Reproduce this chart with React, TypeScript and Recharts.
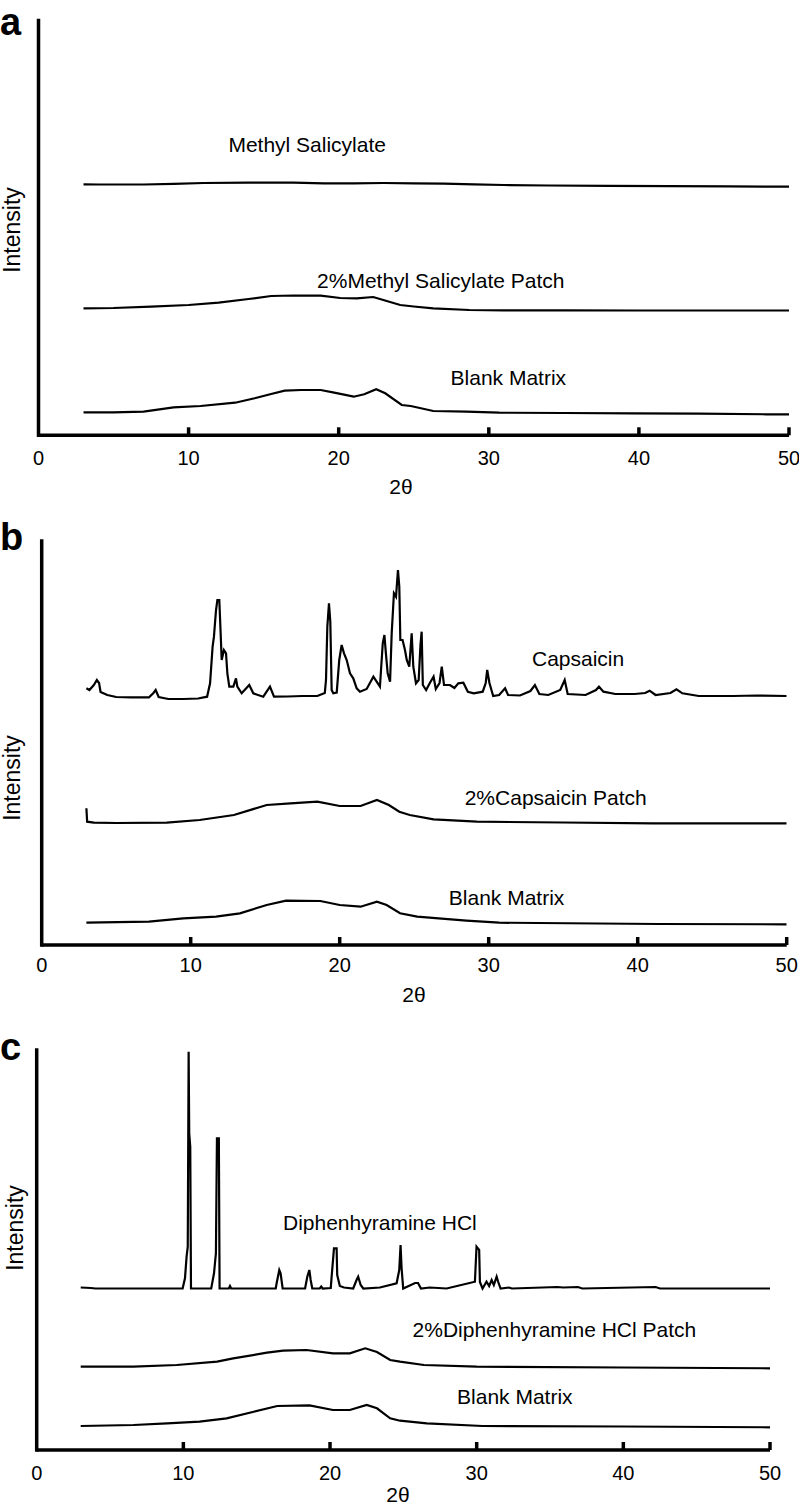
import { LineChart, Line, XAxis, YAxis, ReferenceDot } from 'recharts';

type Pt = [number, number];

const FONT = '"Liberation Sans", Arial, Helvetica, sans-serif';
const X_TICKS = [0, 10, 20, 30, 40, 50];

// (a) methyl salicylate — [2θ, intensity incl. stacking offset]
const methylSalicylate: Pt[] = [
  [3, 251], [4, 250.8], [5.5, 250.8], [7, 250.8], [9, 251.5], [11, 252.3], [14, 252.6],
  [17, 252.6], [19, 252], [21, 252], [23, 252.3], [25, 252], [27, 251.6], [29, 251],
  [31, 250.3], [34, 249.8], [38, 249.5], [42, 249.2], [46, 248.9], [50, 248.6],
];
const methylSalicylatePatch: Pt[] = [
  [3, 127], [5, 127.3], [7.5, 128.6], [10, 130.3], [12, 132.6], [14, 136.3], [15.5, 139.3],
  [17, 139.8], [18.8, 139.6], [20.1, 137.3], [21.2, 137], [22.3, 138.3], [23.2, 134.3],
  [24.1, 130.3], [25, 128.8], [26.3, 127], [28.7, 125.3], [31, 125], [35, 125], [40, 124.8], [50, 124.8],
];
const blankMatrixA: Pt[] = [
  [3, 23], [5, 23], [7, 23.6], [9, 28], [10.8, 29.3], [13.1, 32.6], [14.4, 37], [15.5, 41.3],
  [16.4, 44.6], [17.5, 45.3], [18.8, 45.3], [19.7, 42.6], [21, 38.6], [21.7, 41], [22.5, 46],
  [23.1, 42], [24.2, 30.3], [24.8, 29.3], [26.3, 24.3], [28.5, 23.6], [30.7, 22.6], [35, 22.3],
  [39.6, 22], [44, 21.7], [48.5, 21], [50, 21],
];

// (b) capsaicin
const capsaicin: Pt[] = [
  [3, 256.7], [3.2, 255], [3.5, 260], [3.7, 265], [3.85, 262], [3.95, 253], [4.4, 250], [5, 248],
  [6, 247.7], [7.2, 247.7], [7.5, 252], [7.65, 255], [7.85, 248], [8.5, 246], [9.5, 246],
  [10.5, 246.5], [11.1, 248.3], [11.3, 261.7], [11.47, 298.3], [11.56, 308.3], [11.7, 335],
  [11.79, 345], [11.92, 345], [12.01, 311.7], [12.08, 285], [12.23, 295], [12.37, 291.7],
  [12.46, 271.7], [12.59, 258.3], [12.86, 258.3], [13.04, 266.7], [13.13, 258.3], [13.42, 251.7],
  [13.93, 260], [14.2, 251.7], [14.87, 248.3], [15.32, 258.3], [15.59, 248.3], [16.5, 248.5],
  [17.5, 249], [18.5, 249], [19, 252], [19.08, 265], [19.17, 318.3], [19.28, 341.7], [19.37, 323.3],
  [19.46, 255], [19.57, 251.7], [19.8, 252.5], [19.97, 285], [20.13, 300], [20.29, 291.7],
  [20.47, 285], [20.69, 271.7], [20.91, 266.7], [21.14, 256.7], [21.36, 253.3], [21.81, 256],
  [22.26, 268.3], [22.48, 263.3], [22.7, 258.3], [22.89, 301.7], [23, 310], [23.1, 291.7],
  [23.22, 271.7], [23.38, 263.3], [23.49, 311.7], [23.64, 351.7], [23.78, 348.3], [23.91, 375],
  [24, 358.3], [24.07, 305], [24.22, 305], [24.38, 295], [24.5, 285], [24.67, 278.3],
  [24.83, 311.7], [24.94, 278.3], [25.12, 261.7], [25.3, 265], [25.42, 300], [25.5, 313.3],
  [25.58, 260], [25.8, 255], [26.05, 262], [26.3, 268.3], [26.45, 256], [26.7, 262], [26.85, 278.3],
  [27, 260], [27.4, 260], [27.7, 257], [27.96, 261.7], [28.3, 262.3], [28.6, 253.3], [29, 251.7],
  [29.6, 253.3], [29.8, 262], [29.9, 275], [30.05, 262], [30.3, 249], [30.7, 250], [31.1, 256.7],
  [31.3, 250], [32.1, 249.5], [32.8, 254], [33.1, 260], [33.4, 251], [34, 250], [34.8, 255],
  [35.1, 265], [35.3, 251], [36.5, 250], [37.2, 255], [37.4, 258.3], [37.7, 253.3], [38.5, 251],
  [39.8, 251], [40.5, 252], [40.8, 254.3], [41.2, 250], [42.2, 252], [42.6, 255.7], [43, 251.7],
  [44.1, 249], [46.4, 249], [48, 249.5], [50, 249],
];
const capsaicinPatch: Pt[] = [
  [3, 136.7], [3.05, 123.3], [3.5, 122.3], [5, 122], [8.4, 122.3], [10.6, 125], [12.9, 130],
  [15.1, 140], [16.7, 141.7], [18.5, 143.3], [20, 139], [21.4, 139], [22.5, 145], [23.3, 140],
  [24, 133.3], [24.7, 130], [26.3, 125.7], [29.2, 123.3], [35, 122.5], [41, 121.7], [50, 121.7],
];
const blankMatrixB: Pt[] = [
  [3, 22.3], [7.2, 23.3], [9.5, 26.7], [11.7, 28.3], [13.3, 31.7], [15.1, 40], [16.4, 44.3],
  [18.7, 44], [20, 40], [21.4, 38.3], [22.5, 43.3], [23.15, 40], [24.05, 31.7], [25.2, 28.3],
  [28.5, 24.3], [30.7, 22.3], [41.4, 21], [50, 20.7],
];

// (c) diphenhydramine HCl
const diphenhydramine: Pt[] = [
  [3, 162.5], [3.7, 162], [4, 161.5], [9.95, 161.5], [10.11, 171.7], [10.22, 193.3], [10.3, 203.3],
  [10.36, 398.3], [10.4, 316.7], [10.47, 303.3], [10.52, 161.5], [11.9, 161.5], [12.09, 176.7],
  [12.22, 196.7], [12.29, 311.7], [12.42, 311.7], [12.47, 161.5], [13.1, 161.5], [13.18, 164],
  [13.26, 161.5], [16.3, 161.5], [16.36, 166.7], [16.54, 180], [16.63, 176.7], [16.77, 161.5],
  [18.3, 161.5], [18.45, 173.3], [18.59, 180], [18.68, 170], [18.79, 161.5], [19.3, 161.5],
  [19.4, 163.5], [19.5, 161.5], [20.05, 162], [20.11, 173.3], [20.27, 201.7], [20.45, 201.7],
  [20.49, 175], [20.67, 164], [20.95, 162.5], [21.58, 161.5], [21.81, 170], [21.92, 173.3],
  [22.09, 165], [22.27, 161.5], [23.4, 162.5], [24.54, 166.7], [24.72, 180], [24.81, 205],
  [24.88, 181.7], [24.99, 161.5], [25.8, 167], [26, 167], [26.2, 161.5], [26.8, 162.5],
  [27.95, 161.5], [29.88, 168.3], [29.99, 203.3], [30.17, 200], [30.22, 168], [30.4, 161.5],
  [30.67, 168.3], [30.85, 164], [31.02, 170], [31.17, 165], [31.36, 173.3], [31.47, 168],
  [31.63, 161.5], [32.2, 162.5], [32.4, 161.5], [34.5, 162.5], [35.5, 163], [35.9, 162.5],
  [36.9, 163], [37.2, 161.5], [42.2, 163], [42.5, 161.5], [50, 161.5],
];
const diphenhydraminePatch: Pt[] = [
  [3, 83.3], [6.6, 83.3], [9.55, 85], [12.3, 88.3], [13.4, 91.7], [15.7, 97.3], [16.8, 99.3],
  [18.4, 100], [20.2, 96.7], [21.35, 96.7], [22.4, 101.7], [23.2, 98], [24.1, 90], [24.77, 88.3],
  [26.4, 85], [30, 83.3], [40, 82.5], [50, 81.7],
];
const blankMatrixC: Pt[] = [
  [3, 24], [6.6, 25], [8.9, 26.7], [11.1, 28.3], [12.95, 31.7], [14.8, 38.3], [16.4, 44],
  [18.6, 44.7], [20.2, 40], [21.35, 40], [22.5, 45], [23.2, 41.7], [24.1, 31.7], [24.77, 29.3],
  [26.6, 26.7], [30.4, 24], [40, 23.5], [50, 22.7],
];

const labelsA = [
  { text: 'Methyl Salicylate', x: 17.9, y: 291 },
  { text: '2%Methyl Salicylate Patch', x: 26.8, y: 155 },
  { text: 'Blank Matrix', x: 31.3, y: 58 },
];
const labelsB = [
  { text: 'Capsaicin', x: 36, y: 286 },
  { text: '2%Capsaicin Patch', x: 34.5, y: 147 },
  { text: 'Blank Matrix', x: 31.2, y: 47.5 },
];
const labelsC = [
  { text: 'Diphenhyramine HCl', x: 23.4, y: 227.5 },
  { text: '2%Diphenhyramine HCl Patch', x: 35.3, y: 120.5 },
  { text: 'Blank Matrix', x: 32.6, y: 53 },
];

const toRows = (pts: Pt[]) => pts.map(([x, y]) => ({ x, y }));

function AxisTick(props: any) {
  const { x, y, payload, labelDy } = props;
  return (
    <g>
      {payload.value > 0 && (
        <line x1={x} x2={x} y1={y} y2={y - 8} stroke="#000" strokeWidth={3.5} />
      )}
      <text x={x} y={y + labelDy} textAnchor="middle" fontSize={20} fill="#000">
        {payload.value}
      </text>
    </g>
  );
}

const panels = [
  {
    letter: 'a', top: 0, height: 500, yMax: 414.8, tickDy: 29.4,
    margin: { top: 20.5, right: 10, bottom: 24.7, left: 18.5 },
    xTitle: [401, 493.5], yTitle: [19.5, 230], letterTop: 10.5,
    series: [methylSalicylate, methylSalicylatePatch, blankMatrixA], labels: labelsA,
  },
  {
    letter: 'b', top: 500, height: 505, yMax: 404, tickDy: 27,
    margin: { top: 41, right: 12.3, bottom: 20, left: 21.7 },
    xTitle: [414, 501.5], yTitle: [19.5, 278], letterTop: 26,
    series: [capsaicin, capsaicinPatch, blankMatrixB], labels: labelsB,
  },
  {
    letter: 'c', top: 1000, height: 504, yMax: 400, tickDy: 29.7,
    margin: { top: 50, right: 29, bottom: 14, left: 16.7 },
    xTitle: [398, 501.5], yTitle: [23, 228], letterTop: 36,
    series: [diphenhydramine, diphenhydraminePatch, blankMatrixC], labels: labelsC,
  },
];

function Panel({ p }: { p: (typeof panels)[number] }) {
  return (
    <div style={{ position: 'absolute', left: 0, top: p.top, width: 799, height: p.height }}>
      <LineChart width={799} height={p.height} margin={p.margin}>
        <XAxis
          dataKey="x"
          type="number"
          domain={[0, 50]}
          ticks={X_TICKS}
          interval={0}
          allowDataOverflow
          tickLine={false}
          tickSize={0}
          tickMargin={0}
          tick={<AxisTick labelDy={p.tickDy} />}
          axisLine={{ stroke: '#000', strokeWidth: 3.5 }}
          height={40}
          label={{
            content: () => (
              <text x={p.xTitle[0]} y={p.xTitle[1]} textAnchor="middle" fontSize={21} fill="#000">
                2θ
              </text>
            ),
          }}
        />
        <YAxis
          type="number"
          domain={[0, p.yMax]}
          allowDataOverflow
          tick={false}
          tickLine={false}
          width={20}
          axisLine={{ stroke: '#000', strokeWidth: 3.5, strokeLinecap: 'square' }}
          label={{
            content: () => (
              <text
                x={p.yTitle[0]}
                y={p.yTitle[1]}
                transform={`rotate(-90 ${p.yTitle[0]} ${p.yTitle[1]})`}
                textAnchor="middle"
                fontSize={23}
                fill="#000"
              >
                Intensity
              </text>
            ),
          }}
        />
        {p.series.map((s, i) => (
          <Line
            key={`${p.letter}-${i}`}
            data={toRows(s)}
            dataKey="y"
            type="linear"
            stroke="#000"
            strokeWidth={2.2}
            dot={false}
            activeDot={false}
            isAnimationActive={false}
          />
        ))}
        {p.labels.map((l) => (
          <ReferenceDot
            key={l.text}
            x={l.x}
            y={l.y}
            r={0}
            fill="none"
            stroke="none"
            ifOverflow="visible"
            label={{ value: l.text, position: 'center', fontSize: 21, fill: '#000' }}
          />
        ))}
      </LineChart>
      <div
        style={{
          position: 'absolute',
          left: 0,
          top: p.letterTop,
          fontSize: 38,
          fontWeight: 'bold',
          lineHeight: '22px',
        }}
      >
        {p.letter}
      </div>
    </div>
  );
}

export default function App() {
  return (
    <div
      style={{
        position: 'absolute',
        left: 0,
        top: 0,
        width: 799,
        height: 1504,
        background: '#fff',
        fontFamily: FONT,
        color: '#000',
      }}
    >
      {panels.map((p) => (
        <Panel key={p.letter} p={p} />
      ))}
    </div>
  );
}
